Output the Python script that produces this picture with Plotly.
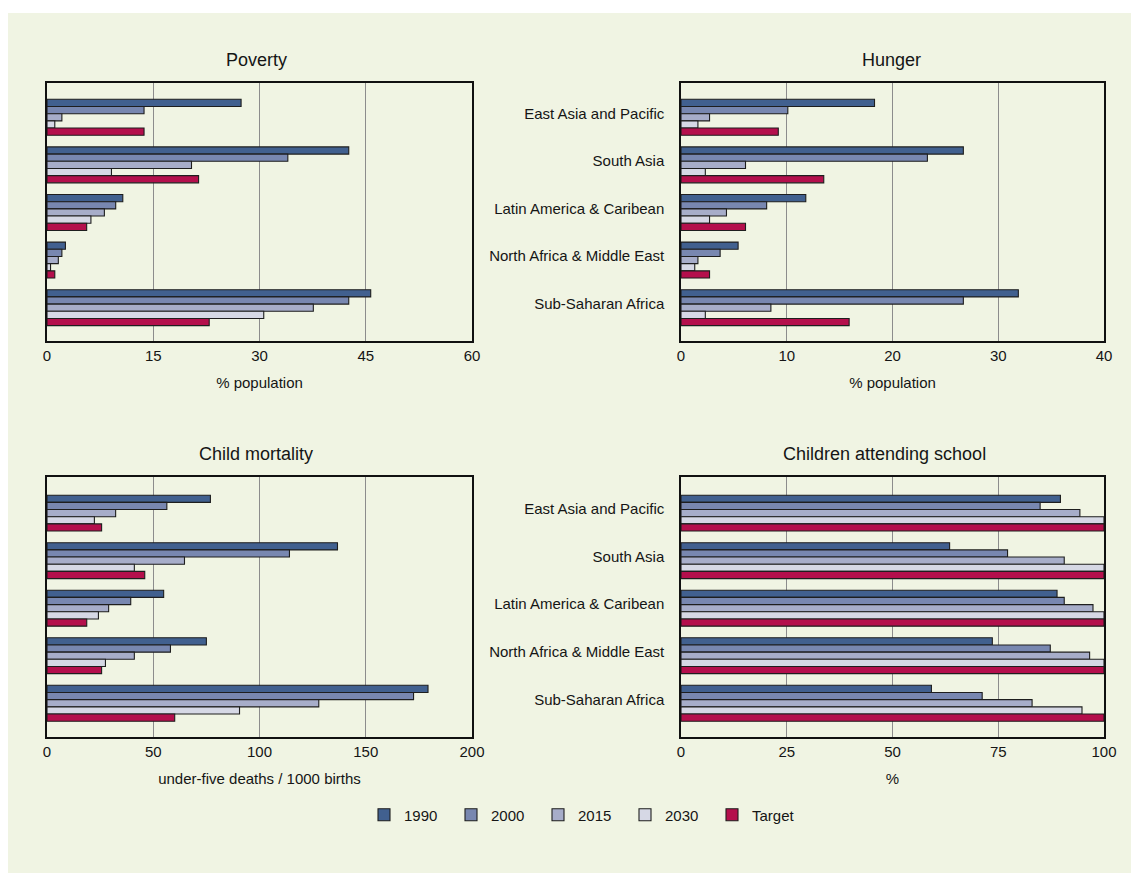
import plotly.graph_objects as go

W, H = 1131, 873

regions = [
    "East Asia and Pacific",
    "South Asia",
    "Latin America & Caribean",
    "North Africa & Middle East",
    "Sub-Saharan Africa",
]
series_names = ["1990", "2000", "2015", "2030", "Target"]
series_colors = ["#41608F", "#7887B0", "#A7ADC9", "#D6D8E5", "#B40F4C"]

# % population living in poverty
poverty_1990 = [27.4, 42.6, 10.7, 2.6, 45.7]
poverty_2000 = [13.7, 34.0, 9.7, 2.1, 42.6]
poverty_2015 = [2.1, 20.4, 8.1, 1.6, 37.6]
poverty_2030 = [1.1, 9.1, 6.2, 0.5, 30.6]
poverty_target = [13.7, 21.4, 5.6, 1.1, 22.9]

# % population undernourished
hunger_1990 = [18.3, 26.7, 11.8, 5.4, 31.9]
hunger_2000 = [10.1, 23.3, 8.1, 3.7, 26.7]
hunger_2015 = [2.7, 6.1, 4.3, 1.6, 8.5]
hunger_2030 = [1.6, 2.3, 2.7, 1.3, 2.3]
hunger_target = [9.2, 13.5, 6.1, 2.7, 15.9]

# under-five deaths per 1000 births
mortality_1990 = [76.9, 136.7, 54.9, 75.0, 179.3]
mortality_2000 = [56.4, 114.1, 39.4, 58.1, 172.5]
mortality_2015 = [32.3, 64.7, 29.0, 41.1, 127.9]
mortality_2030 = [22.3, 41.1, 24.2, 27.5, 90.6]
mortality_target = [25.7, 46.0, 18.7, 25.7, 60.1]

# % children attending school
school_1990 = [89.7, 63.5, 88.9, 73.6, 59.2]
school_2000 = [84.9, 77.2, 90.6, 87.3, 71.2]
school_2015 = [94.3, 90.6, 97.4, 96.6, 83.0]
school_2030 = [100, 100, 100, 100, 94.8]
school_target = [100, 100, 100, 100, 100]

panels = [
    dict(title="Poverty", axis_title="% population", xmax=60, dtick=15,
         series=[poverty_1990, poverty_2000, poverty_2015, poverty_2030, poverty_target],
         labels=False, px_x=(47, 472), px_y=(83, 341), title_x=256),
    dict(title="Hunger", axis_title="% population", xmax=40, dtick=10,
         series=[hunger_1990, hunger_2000, hunger_2015, hunger_2030, hunger_target],
         labels=True, px_x=(681, 1104), px_y=(83, 341), title_x=891),
    dict(title="Child mortality", axis_title="under-five deaths / 1000 births", xmax=200, dtick=50,
         series=[mortality_1990, mortality_2000, mortality_2015, mortality_2030, mortality_target],
         labels=False, px_x=(47, 472), px_y=(477, 737), title_x=256),
    dict(title="Children attending school", axis_title="%", xmax=100, dtick=25,
         series=[school_1990, school_2000, school_2015, school_2030, school_target],
         labels=True, px_x=(681, 1104), px_y=(477, 737), title_x=884),
]

FONT = "Liberation Sans, Arial, sans-serif"
BG = "#F0F4E3"
TXT = "#151515"

fig = go.Figure()
annotations = []

for i, p in enumerate(panels):
    n = "" if i == 0 else str(i + 1)
    xa, ya = "x" + n, "y" + n
    for name, color, vals in zip(series_names, series_colors, p["series"]):
        fig.add_trace(go.Bar(
            x=vals, y=regions, orientation="h", name=name,
            marker=dict(color=color, line=dict(color="#1E1E1E", width=1.1)),
            xaxis=xa, yaxis=ya, showlegend=(i == 0),
            hovertemplate="%{y}: %{x}<extra>" + name + "</extra>",
        ))
    x0, x1 = p["px_x"]
    y0, y1 = p["px_y"]
    fig.layout["xaxis" + n] = dict(
        domain=[x0 / W, x1 / W], anchor=ya, range=[0, p["xmax"]], dtick=p["dtick"],
        tick0=0, showgrid=True, gridcolor="#8C8C8C", gridwidth=1, zeroline=False,
        showline=True, linecolor="#111111", linewidth=1.5, mirror=True,
        ticks="", tickfont=dict(size=15, color=TXT), automargin=False,
        title=dict(text=p["axis_title"], font=dict(size=15, color=TXT), standoff=15),
        fixedrange=True,
    )
    fig.layout["yaxis" + n] = dict(
        domain=[1 - y1 / H, 1 - y0 / H], anchor=xa, type="category",
        range=[4.7, -0.72] if i < 2 else [4.71, -0.76],
        showgrid=False, showline=True, linecolor="#111111", linewidth=1.5, mirror=True,
        showticklabels=p["labels"], ticks="", ticklabelstandoff=12, ticklabelshift=4,
        automargin=False, tickfont=dict(size=15, color=TXT), fixedrange=True,
    )
    annotations.append(dict(
        text=p["title"], xref="paper", yref="paper",
        x=p["title_x"] / W, y=1 - (y0 - 23) / H, xanchor="center", yanchor="middle",
        showarrow=False, font=dict(size=18, color=TXT),
    ))

fig.update_layout(
    width=W, height=H, autosize=False,
    margin=dict(l=0, r=0, t=0, b=0, pad=0, autoexpand=False),
    paper_bgcolor="white", plot_bgcolor="white",
    font=dict(family=FONT, size=15, color=TXT),
    barmode="group", bargap=0.245, bargroupgap=0,
    annotations=annotations,
    legend=dict(
        orientation="h", x=364 / W, y=1 - 815 / H, xanchor="left", yanchor="middle",
        bgcolor="rgba(0,0,0,0)", font=dict(size=15, color=TXT),
        entrywidth=42, itemclick=False, itemdoubleclick=False, traceorder="normal",
    ),
    shapes=[dict(
        type="rect", xref="paper", yref="paper", x0=8 / W, x1=1.0, y0=0.0, y1=1 - 13 / H,
        fillcolor=BG, line=dict(width=0), layer="below",
    )],
)

fig.write_html("out.html")
